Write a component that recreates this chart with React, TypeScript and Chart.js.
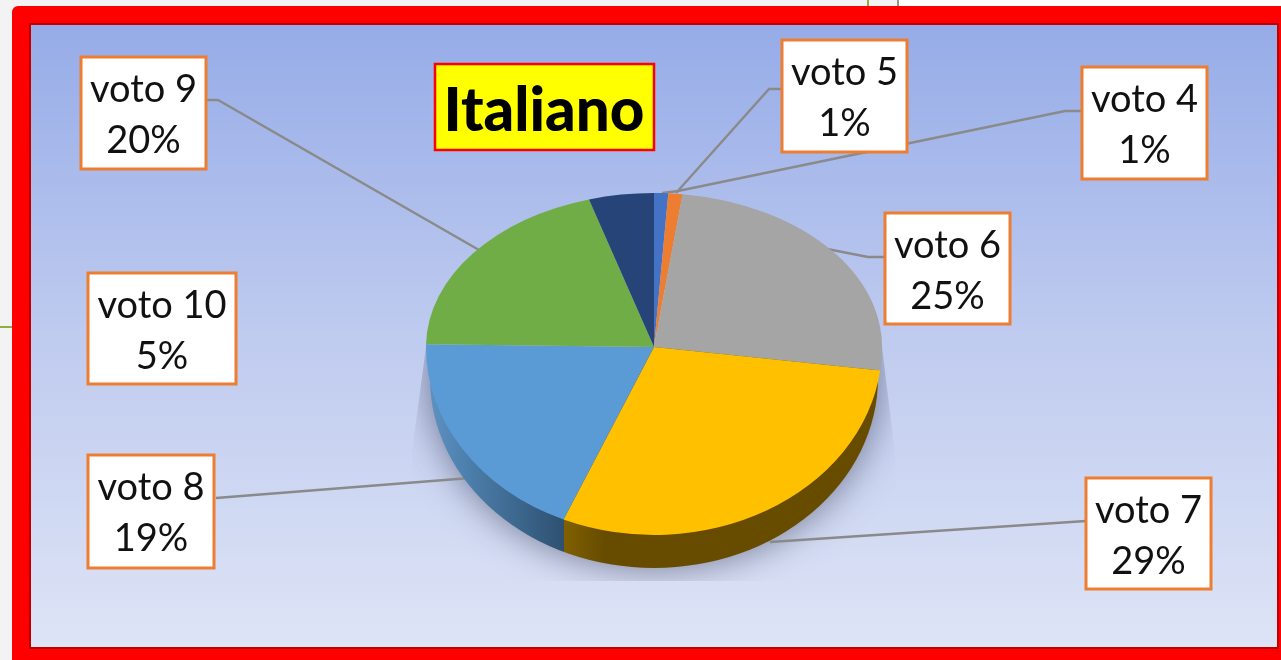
import React, { useEffect, useRef } from "react";
import { Chart, registerables } from "chart.js";

Chart.register(...registerables);

const titleText = "Italiano";
const categories = ["voto 4", "voto 5", "voto 6", "voto 7", "voto 8", "voto 9", "voto 10"];
const seriesValues = [1, 1, 25, 29.49, 18.8, 20.11, 4.6];
const sliceColors = ["#4472c4", "#ed7d31", "#a5a5a5", "#ffc000", "#5b9bd5", "#70ad47", "#264478"];

const W = 1281;
const H = 660;
const BACK_SCALE = 154 / 228;
const FRONT_SCALE = 188 / 228;

// box: x0, y0, x1, y1 for each category's label; leader: the polyline that ties it to the pie
const labelBoxes = [
  [1081, 66, 1208, 180],
  [781, 39, 908, 153],
  [884, 212, 1011, 325],
  [1085, 477, 1212, 590],
  [87, 454, 215, 569],
  [80, 56, 207, 170],
  [87, 272, 237, 385],
];
const leaders = [
  [[1081, 111], [1065, 111], [678, 191], [662, 193]],
  [[781, 89], [769, 89], [676, 193]],
  [[884, 257], [868, 257], [822, 248]],
  [[1086, 521], [770, 542]],
  [[216, 498], [470, 478]],
  [[207, 100], [218, 100], [486, 254]],
  [],
];

const backdropPlugin = {
  id: "backdrop",
  beforeDraw(chart: any) {
    const c = chart.ctx;
    c.save();
    c.fillStyle = "#ffffff";
    c.fillRect(0, 0, W, H);
    c.fillStyle = "#f3f3f3";
    c.fillRect(0, 0, 898, 8);
    c.fillRect(0, 0, 12, H);
    c.fillStyle = "#8f9a86";
    c.fillRect(897, 0, 2, 7);
    c.fillStyle = "#8fae3f";
    c.fillRect(867, 0, 2, 7);
    c.fillRect(0, 326, 12, 2);

    c.fillStyle = "#ff0000";
    c.beginPath();
    c.roundRect(12, 6, W + 20, H + 20, 6);
    c.fill();
    c.fillStyle = "#c00000";
    c.fillRect(29, 23, 1250, 626);
    const g = c.createLinearGradient(0, 25, 0, 647);
    g.addColorStop(0, "#96ace8");
    g.addColorStop(0.5, "#bfcbef");
    g.addColorStop(1, "#dee4f6");
    c.fillStyle = g;
    c.fillRect(31, 25, 1246, 622);
    c.restore();
  },
};

const pie3dPlugin = {
  id: "pie3d",
  beforeDatasetsDraw(chart: any) {
    const c = chart.ctx;
    const arcs = chart.getDatasetMeta(0).data;
    const { x: cx, y: cy, outerRadius: R } = arcs[0];
    const sideCy = cy + 31;
    const sideRx = R - 4;
    const sideRy = 190;

    // soft shadow, cut off as in the picture
    c.save();
    c.beginPath();
    c.moveTo(cx - R, cy);
    c.lineTo(cx - R - 14, cy + 105);
    c.lineTo(cx - R - 14, cy + 234);
    c.lineTo(cx + R + 14, cy + 234);
    c.lineTo(cx + R + 14, cy + 115);
    c.lineTo(cx + R, cy);
    c.closePath();
    c.clip();
    c.shadowColor = "rgba(50,55,80,0.6)";
    c.shadowBlur = 36;
    c.fillStyle = "#9aa1b8";
    c.beginPath();
    c.ellipse(cx, sideCy, sideRx, sideRy, 0, 0, Math.PI * 2);
    c.fill();
    c.restore();

    // leader lines
    c.save();
    c.strokeStyle = "#8a8a8a";
    c.lineWidth = 2.4;
    leaders.forEach((pts) => {
      if (!pts.length) return;
      c.beginPath();
      pts.forEach(([x, y], i) => (i ? c.lineTo(x, y) : c.moveTo(x, y)));
      c.stroke();
    });
    c.restore();

    // side wall, split where the voto 7 / voto 8 boundary meets the rim
    const split = arcs[3].endAngle;
    const bx = cx + R * Math.cos(split);
    const x0 = cx - R;
    const x1 = cx + R;
    const t = (bx - x0) / (x1 - x0);
    const g = c.createLinearGradient(x0, 0, x1, 0);
    g.addColorStop(0, "#5f93c4");
    g.addColorStop(t * 0.35, "#4a7ca8");
    g.addColorStop(t, "#2e5171");
    g.addColorStop(t, "#806000");
    g.addColorStop(Math.min(1, t + 0.09), "#674c00");
    g.addColorStop(1, "#674c00");
    c.save();
    c.beginPath();
    c.rect(0, cy, W, H - cy);
    c.clip();
    c.fillStyle = g;
    c.beginPath();
    c.ellipse(cx, sideCy, sideRx, sideRy, 0, 0, Math.PI * 2);
    c.fill();
    c.restore();

    // back half of the top face
    c.save();
    c.beginPath();
    c.rect(0, 0, W, cy);
    c.clip();
    c.translate(0, cy);
    c.scale(1, BACK_SCALE);
    c.translate(0, -cy);
  },
  afterDatasetsDraw(chart: any) {
    const c = chart.ctx;
    c.restore();
    const meta = chart.getDatasetMeta(0);
    const cy = meta.data[0].y;
    // front half of the top face
    c.save();
    c.beginPath();
    c.rect(0, cy, W, H - cy);
    c.clip();
    c.translate(0, cy);
    c.scale(1, FRONT_SCALE);
    c.translate(0, -cy);
    meta.controller.draw();
    c.restore();

    const total = seriesValues.reduce((a, b) => a + b, 0);
    c.save();
    c.textAlign = "center";
    c.textBaseline = "alphabetic";
    categories.forEach((name, i) => {
      const [a, b, d, e] = labelBoxes[i];
      c.fillStyle = "#ffffff";
      c.fillRect(a, b, d - a, e - b);
      c.strokeStyle = "#ed7d31";
      c.lineWidth = 3;
      c.strokeRect(a + 1, b + 1, d - a - 2, e - b - 2);
      c.fillStyle = "#111111";
      c.font = '38px Lato, "Open Sans", sans-serif';
      const mid = (a + d) / 2;
      c.fillText(name, mid, b + 46);
      c.fillText(`${Math.round((seriesValues[i] / total) * 100)}%`, mid, b + 97);
    });
    // title
    c.fillStyle = "#ffff00";
    c.fillRect(434, 63, 221, 88);
    c.strokeStyle = "#ff0000";
    c.lineWidth = 2.5;
    c.strokeRect(435, 64, 219, 86);
    c.fillStyle = "#000000";
    c.font = '900 60px Lato, "Open Sans", sans-serif';
    c.fillText(titleText, 544, 131);
    c.restore();
  },
};

export default function App() {
  const ref = useRef<HTMLCanvasElement>(null);
  useEffect(() => {
    document.body.style.margin = "0";
    const chart = new Chart(ref.current as HTMLCanvasElement, {
      type: "pie",
      data: {
        labels: categories,
        datasets: [
          {
            data: seriesValues,
            backgroundColor: sliceColors,
            borderWidth: 0,
            clip: false,
          } as any,
        ],
      },
      options: {
        responsive: false,
        animation: false,
        layout: { padding: { left: 426, right: 399, top: 119, bottom: 85 } },
        plugins: { legend: { display: false }, tooltip: { enabled: false }, title: { display: false } },
      },
      plugins: [backdropPlugin, pie3dPlugin],
    });
    return () => chart.destroy();
  }, []);
  return <canvas ref={ref} width={W} height={H} style={{ display: "block", width: W, height: H }} />;
}
